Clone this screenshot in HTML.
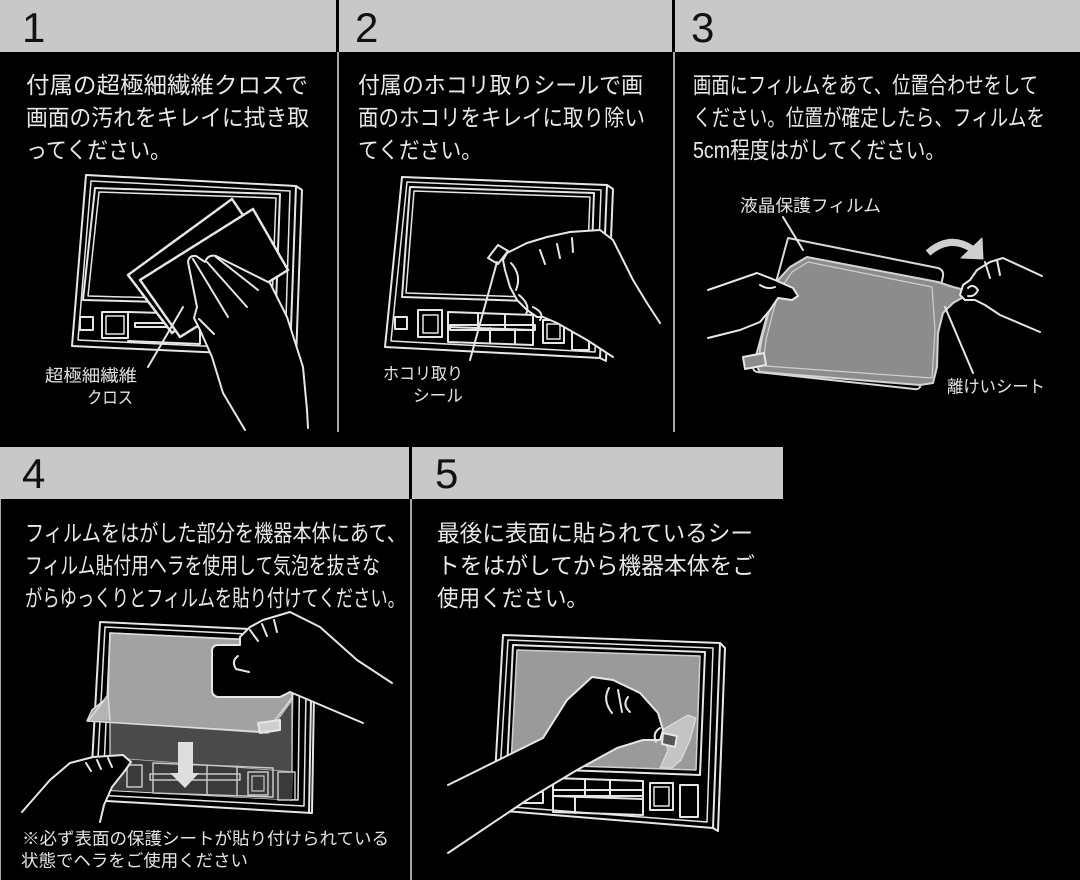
<!DOCTYPE html>
<html><head><meta charset="utf-8"><style>
html,body{margin:0;padding:0;background:#000;}
svg{display:block;}
</style></head><body>
<svg width="1080" height="880" viewBox="0 0 1080 880" xmlns="http://www.w3.org/2000/svg">
<rect width="1080" height="880" fill="#000"/>
<!-- headers -->
<rect x="0" y="0" width="336" height="52" fill="#c8c8c8"/>
<rect x="339" y="0" width="333" height="52" fill="#c8c8c8"/>
<rect x="675" y="0" width="405" height="52" fill="#c8c8c8"/>
<rect x="0" y="447" width="409" height="52" fill="#c8c8c8"/>
<rect x="412" y="447" width="371" height="52" fill="#c8c8c8"/>
<!-- separators -->
<g stroke="#a8a8a8" stroke-width="2">
<line x1="338" y1="52" x2="338" y2="432"/>
<line x1="674" y1="52" x2="674" y2="432"/>
<line x1="411" y1="499" x2="411" y2="880"/>
<line x1="0.5" y1="499" x2="0.5" y2="880" stroke-width="1"/>
</g>
<g font-family="'Liberation Sans', sans-serif" font-size="42" fill="#111">
<text x="22" y="42">1</text>
<text x="355" y="42">2</text>
<text x="691" y="42">3</text>
<text x="22" y="488">4</text>
<text x="435" y="488">5</text>
</g>
<g font-family="'Liberation Sans','Noto Sans CJK JP',sans-serif" font-size="23" fill="#e8e8e8">
<text x="26" y="93" textLength="282" lengthAdjust="spacingAndGlyphs">付属の超極細繊維クロスで</text>
<text x="26" y="125.5" textLength="283" lengthAdjust="spacingAndGlyphs">画面の汚れをキレイに拭き取</text>
<text x="26" y="158" textLength="145" lengthAdjust="spacingAndGlyphs">ってください。</text>
<text x="358" y="93" textLength="285" lengthAdjust="spacingAndGlyphs">付属のホコリ取りシールで画</text>
<text x="358" y="125.5" textLength="287" lengthAdjust="spacingAndGlyphs">面のホコリをキレイに取り除い</text>
<text x="358" y="158" textLength="124" lengthAdjust="spacingAndGlyphs">てください。</text>
<text x="693" y="93" textLength="345" lengthAdjust="spacingAndGlyphs">画面にフィルムをあて、位置合わせをして</text>
<text x="693" y="125.5" textLength="352" lengthAdjust="spacingAndGlyphs">ください。位置が確定したら、フィルムを</text>
<text x="693" y="158" textLength="252" lengthAdjust="spacingAndGlyphs">5cm程度はがしてください。</text>
<text x="25" y="541" textLength="381" lengthAdjust="spacingAndGlyphs">フィルムをはがした部分を機器本体にあて、</text>
<text x="25" y="573.5" textLength="355" lengthAdjust="spacingAndGlyphs">フィルム貼付用ヘラを使用して気泡を抜きな</text>
<text x="25" y="606" textLength="380" lengthAdjust="spacingAndGlyphs">がらゆっくりとフィルムを貼り付けてください。</text>
<text x="437" y="541" textLength="316" lengthAdjust="spacingAndGlyphs">最後に表面に貼られているシー</text>
<text x="437" y="573.5" textLength="318" lengthAdjust="spacingAndGlyphs">トをはがしてから機器本体をご</text>
<text x="437" y="606" textLength="151" lengthAdjust="spacingAndGlyphs">使用ください。</text>
</g>
<!-- labels -->
<g font-family="'Liberation Sans','Noto Sans CJK JP',sans-serif" font-size="17" fill="#e4e4e4">
<text x="45" y="381.5" textLength="92" lengthAdjust="spacingAndGlyphs">超極細繊維</text>
<text x="87" y="403.5" textLength="46" lengthAdjust="spacingAndGlyphs">クロス</text>
<text x="383" y="379.5" textLength="80" lengthAdjust="spacingAndGlyphs">ホコリ取り</text>
<text x="413" y="401.5" textLength="50" lengthAdjust="spacingAndGlyphs">シール</text>
<text x="740" y="211.5" textLength="141" lengthAdjust="spacingAndGlyphs">液晶保護フィルム</text>
<text x="947" y="392.5" textLength="98" lengthAdjust="spacingAndGlyphs">離けいシート</text>
<text x="22" y="844.5" textLength="367" lengthAdjust="spacingAndGlyphs">※必ず表面の保護シートが貼り付けられている</text>
<text x="21" y="866.5" textLength="227" lengthAdjust="spacingAndGlyphs">状態でヘラをご使用ください</text>
</g>

<g stroke="#e6e6e6" stroke-width="2" fill="none" stroke-linejoin="round" stroke-linecap="round">
<!-- PANEL 1 device -->
<path d="M86,175 L296,186 L290,356 L72,346 Z"/>
<path d="M91,181 L290,191 L285,350 L78,340 Z" stroke-width="1.5"/>
<path d="M296,186 L302,190 L296,359 L290,356"/>
<path d="M95,188 L280,194 L276,305 L83,300 Z"/>
<path d="M99,192 L276,198 L272,301 L88,296 Z" stroke-width="1.5"/>
<rect x="80" y="317" width="13" height="13"/>
<rect x="102" y="312" width="26" height="26"/>
<rect x="106" y="316" width="18" height="18" stroke-width="1.5"/>
<path d="M128,312 L200,314 L200,344 L128,341"/>
<rect x="135" y="323" width="40" height="4"/>
<!-- cloths -->
<path d="M128,275 L232,199 L270,255 L172,333 Z" fill="#000" stroke-width="2.5" stroke-dasharray="4 1.5"/>
<path d="M140,280 L253,209 L288,270 L180,337 Z" fill="#000" stroke-width="2.5" stroke-dasharray="4 1.5"/>
<!-- hand 1 -->
<path d="M245,434 L223,393 L212,357 L200,330 L194,318 L197,307 L188,262 Q189,255 196,256 L205,262 Q208,254 216,256 L270,283 L287,317 L303,367 L307,410 L308,434 Z" fill="#000" stroke="none"/>
<path d="M245,430 L223,393 L212,357 L200,330 L194,318 L197,307 L188,262 Q189,255 196,256 L205,262 Q208,254 216,256 L270,283 L287,317 L303,367 L307,410 L308,428"/>
<path d="M193,259 L228,317"/>
<path d="M207,262 L247,307"/>
<path d="M216,257 L258,290"/>
<path d="M199,319 L214,334"/>
<line x1="183" y1="307" x2="148" y2="367"/>

<!-- PANEL 2 device -->
<path d="M402,177 L607,185 L600,358 L385,347 Z"/>
<path d="M407,182 L601,190 L595,352 L391,341 Z" stroke-width="1.5"/>
<path d="M607,185 L613,189 L606,361 L600,358"/>
<path d="M410,187 L594,193 L590,303 L402,297 Z"/>
<path d="M414,191 L590,197 L586,299 L406,293 Z" stroke-width="1.5"/>
<rect x="395" y="317" width="12" height="12"/>
<rect x="418" y="310" width="24" height="27"/>
<rect x="423" y="315" width="15" height="18" stroke-width="1.5"/>
<path d="M448,312 L533,315 L533,345 L448,342 Z"/>
<path d="M448,327 L533,330"/>
<path d="M478,313 L478,328 M505,314 L505,329 M490,328 L490,343 M515,329 L515,344"/>
<rect x="450" y="325" width="85" height="5"/>
<rect x="543" y="320" width="21" height="23"/>
<rect x="547" y="324" width="13" height="15" stroke-width="1.5"/>
<rect x="572" y="327" width="17" height="23"/>
<!-- hand 2 -->
<path d="M507,253 L527,243 L547,237 L570,232 L600,230 L613,240 L623,260 L633,280 L647,303 L660,323 L668,335 L620,365 L613,357 L587,340 L557,323 L543,317 L537,317 L527,310 L517,300 L510,287 L505,270 L503,260 Z" fill="#000" stroke="none"/>
<path d="M660,323 L647,303 L633,280 L623,260 L613,240 L600,230 L570,232 L547,237 L527,243 L507,253 L503,260 L505,270 L510,287 L517,300 L527,310 L537,317 L543,317 L557,323 L587,340 L613,357"/>
<path d="M511,263 Q522,275 516,290"/>
<path d="M519,295 Q531,305 526,314"/>
<path d="M533,307 Q545,313 540,320"/>
<path d="M540,250 L545,264 M557,244 L560,258 M572,238 L573,252"/>
<path d="M488,258 L498,245 L508,251 L498,264 Z" fill="#000"/>
<line x1="497" y1="262" x2="470" y2="360"/>

<!-- PANEL 3 -->
<path d="M788,238 L938,268 Q944,270 943,276 L920,387 Q918,390 914,389 L757,372 Q753,371 753,367 Z" stroke="#d8d8d8"/>
<path d="M778,280 L790,267 L807,257 L938,282 L953,287 L965,290 L967,295 L953,303 L943,313 L938,333 L937,367 L933,383 L920,385 L760,372 L757,367 L762,337 L770,307 L775,290 Z" fill="#8c8c8c" stroke="#d4d4d4"/>
<path d="M763,365 L766,340 L774,308 L781,288 L792,272 L808,262 L932,287 L935,330 L932,378 L765,366 Z" stroke="#cfcfcf" stroke-width="1.2"/>
<path d="M743,357 L764,353 L766,365 L745,369 Z" fill="#8c8c8c"/>
<!-- left hand -->
<path d="M700,290 L757,273 L775,280 L793,288 L798,296 L792,300 L778,298 L770,310 L760,322 L740,330 L700,340 Z" fill="#000" stroke="none"/>
<path d="M708,290 L757,273 L775,280 L793,288 L798,296 L792,300 L778,298 L770,310 L760,322 L740,330 L708,338"/>
<path d="M760,285 Q768,290 775,287"/>
<!-- right hand -->
<path d="M1050,279 L1003,258 L990,262 L977,270 L970,280 L963,285 L960,295 L965,300 L975,300 L985,305 L1000,315 L1040,332 L1050,332 Z" fill="#000" stroke="none"/>
<path d="M1042,276 L1003,258 L990,262 L977,270 L970,280 L963,285 L960,295 L965,300 L975,300 L985,305 L1000,315 L1040,332"/>
<path d="M985,262 L990,278 M997,260 L1000,275 M968,288 Q973,283 978,290 Q975,297 968,296"/>
<!-- arrow -->
<path d="M928,253 Q950,234 972,249" stroke="#cfcfcf" stroke-width="7" stroke-linecap="butt"/>
<path d="M961,258 L983,259 L982,238 Z" fill="#cfcfcf" stroke="#cfcfcf" stroke-width="1"/>
<line x1="783" y1="217" x2="803" y2="250"/>
<line x1="945" y1="307" x2="973" y2="373"/>

<!-- PANEL 4 -->
<path d="M100,622 L315,632 L312,813 L90,800 Z"/>
<path d="M105,627 L307,637 L304,806 L96,795 Z" stroke-width="1.5"/>
<path d="M110,633 L300,642 L298,800 L103,790 Z" stroke-width="1.5"/>
<path d="M293,645 L291,800 M312,645 L309,813"/>
<path d="M110,722 L268,733 L292,700 L292,772 L110,758 Z" fill="#4a4a4a" stroke="#bbbbbb" stroke-width="1.5"/>
<path d="M110,758 L292,772 L292,800 L108,790 Z" fill="#3a3a3a" stroke="none"/>
<path d="M110,633 L292,642 L292,698 L266,732 L87,721 L92,710 L108,697 Z" fill="#a2a2a2" stroke="#dddddd" stroke-width="1.5"/>
<path d="M88,721 L108,695 L110,720" stroke="#dddddd" stroke-width="1.5" fill="#b4b4b4"/>
<path d="M258,723 L280,720 L280,730 L260,733 Z" fill="#cfcfcf"/>
<rect x="127" y="765" width="15" height="22" stroke="#c8c8c8" stroke-width="1.5"/>
<path d="M153,763 L273,768 L273,797 L153,793 Z" stroke="#c8c8c8" stroke-width="1.5"/>
<path d="M207,765 L207,795 M237,766 L237,796" stroke="#c8c8c8" stroke-width="1.5"/>
<rect x="150" y="774" width="90" height="6" stroke="#c8c8c8" stroke-width="1.5"/>
<rect x="248" y="772" width="20" height="23" stroke="#c8c8c8" stroke-width="1.5"/>
<rect x="252" y="776" width="12" height="15" stroke="#c8c8c8" stroke-width="1.2"/>
<rect x="278" y="772" width="17" height="28" stroke="#c8c8c8" stroke-width="1.5"/>
<path d="M178,742 L193,742 L193,773 L199,773 L185,788 L170,773 L178,773 Z" fill="#dedede" stroke="none"/>
<!-- right hand -->
<path d="M240,637 L250,627 L263,620 L290,612 L320,627 L357,660 L390,682 L409,690 L409,726 L363,723 L290,692 L280,697 L218,697 Q212,696 212,690 L212,650 Q213,645 218,645 L240,645 Z" fill="#000" stroke="none"/>
<path d="M392,683 L357,660 L320,627 L290,612 L263,620 L250,627 L240,637 L240,645 L218,645 Q213,645 212,650 L212,690 Q212,696 218,697 L280,697 L290,692 L363,723"/>
<path d="M238,656 Q231,661 236,669 L249,672"/>
<path d="M250,630 L258,641 M262,624 L267,636 M274,620 L277,632"/>
<!-- left hand -->
<path d="M15,820 L50,780 L70,763 L93,757 L123,755 L131,762 L124,772 L112,787 L104,805 L100,825 L15,830 Z" fill="#000" stroke="none"/>
<path d="M22,812 L50,780 L70,763 L93,757 L123,755 L131,762 L124,772 L112,787 L104,805 L100,822"/>
<path d="M86,763 L91,771 M97,760 L101,769 M108,758 L112,767"/>

<!-- PANEL 5 device -->
<path d="M503,635 L720,643 L713,828 L493,810 Z"/>
<path d="M720,643 L725,648 L718,831 L713,828"/>
<path d="M508,640 L713,648 L707,822 L498,806 Z" stroke-width="1.5"/>
<path d="M513,645 L705,652 L700,775 L507,768 Z"/>
<path d="M517,650 L700,656 L696,770 L511,764 Z" fill="#9a9a9a" stroke="#cfcfcf" stroke-width="1.5"/>
<path d="M553,778 L643,781 L643,815 L553,812 Z"/>
<path d="M553,796 L643,799 M585,779 L585,796 M610,780 L610,797 M575,797 L575,813"/>
<rect x="553" y="790" width="90" height="6"/>
<rect x="523" y="792" width="20" height="11"/>
<rect x="650" y="783" width="23" height="27"/>
<rect x="654" y="787" width="15" height="19" stroke-width="1.5"/>
<rect x="680" y="785" width="18" height="32"/>
<!-- peel -->
<path d="M662,730 L688,715 L696,718 L690,740 L681,760 L672,768 L660,768 L668,750 Z" fill="#c4c4c4" stroke="#dcdcdc" stroke-width="1.2"/>
<!-- hand 5 -->
<path d="M440,789 L543,738 L567,700 L592,677 L613,680 L640,693 L658,713 L663,730 L660,740 L643,740 L617,748 L577,770 L527,800 L440,858 Z" fill="#000" stroke="none"/>
<path d="M448,785 L543,738 L567,700 L592,677 L613,680 L640,693 L658,713 L663,730 L660,740 L643,740 L617,748 L577,770 L527,800 L448,853"/>
<path d="M609,688 Q602,700 612,713 M618,690 L622,712 M628,697 Q622,705 630,712"/>
<path d="M660,728 Q652,733 656,742"/>
<path d="M663,733 L677,736 L675,747 L662,744 Z" fill="#555"/>
</g>
</svg>
</body></html>
